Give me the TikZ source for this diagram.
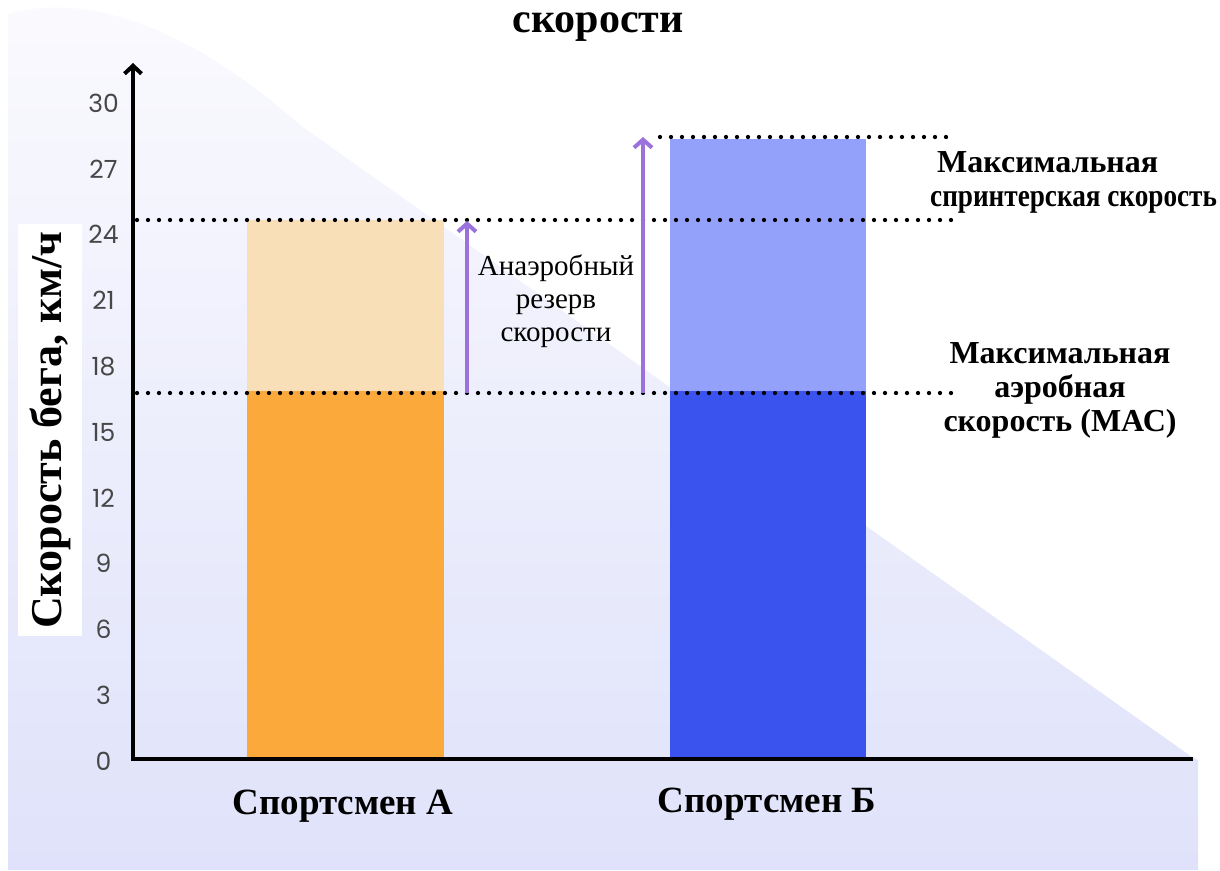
\documentclass[tikz,border=0pt]{standalone}
\usepackage{fontspec}
\setmainfont{Liberation Serif}
\newfontfamily\tickfont{Poppins}
\newfontfamily\narrowbold[FakeStretch=0.85]{Liberation Serif Bold}
\usetikzlibrary{arrows.meta,positioning}
\definecolor{barorange}{HTML}{FBA93B}
\definecolor{barpeach}{HTML}{F9DFB8}
\definecolor{barblue}{HTML}{3A52EE}
\definecolor{barsky}{HTML}{93A1FB}
\definecolor{reservepurple}{HTML}{9B72DB}
\definecolor{bgtop}{HTML}{FAFAFE}
\definecolor{bgbottom}{HTML}{DFE2FA}
\definecolor{tickgrey}{HTML}{474747}
\tikzset{
  axisline/.style={line width=4pt, -{Straight Barb[length=8pt,width=17pt,line width=4pt]}},
  reserve/.style={reservepurple, line width=4.5pt, -{Straight Barb[length=8pt,width=18pt,line width=4pt]}},
  level/.style={line width=4.3pt, line cap=round, dash pattern=on 0pt off 11pt},
  ticklabel/.style={text=tickgrey, font=\tickfont\fontsize{25}{28}\selectfont},
  barlabel/.style={font=\bfseries\fontsize{37}{40}\selectfont, anchor=base},
  sidelabel/.style={font=\bfseries\fontsize{32}{34}\selectfont, inner sep=0pt},
}
\begin{document}
\begin{tikzpicture}[x=1pt,y=-1pt]
\useasboundingbox (0,0) rectangle (1220,870);
% background
\shade[top color=bgtop, bottom color=bgbottom] (8,870) -- (8,14)
  .. controls (70,-4) and (170,10) .. (300,125) -- (1192,757)
  -- (1198,760) -- (1198,870) -- cycle;
% bars
\fill[barorange] (247,391) rectangle (444,758);
\fill[barpeach] (247,220) rectangle (444,391);
\fill[barblue] (670,391) rectangle (866,758);
\fill[barsky] (670,139) rectangle (866,391);
% levels
\coordinate (sprintA) at (137,220);
\coordinate (sprintB) at (660,137);
\coordinate (mas) at (137,393);
\draw[level] (sprintA) -- (952,220);
\draw[level] (mas) -- (952,393);
\draw[level] (sprintB) -- (952,137);
% axes
\coordinate (origin) at (133,759);
\coordinate (ytop) at (133,63);
\coordinate (xend) at (1193,759);
\draw[axisline] (xend) -- (origin) -- (ytop);
\foreach \v in {0,3,...,30}
  \node[ticklabel] (tick\v) at (103.5,{761-\v*21.93}) {\v};
% reserve arrows
\coordinate (resA0) at (467,393);
\coordinate (resA1) at (467,221);
\coordinate (resB0) at (643,393);
\coordinate (resB1) at (643,137);
\draw[reserve] (resA0) -- (resA1);
\draw[reserve] (resB0) -- (resB1);
% texts
\node[font=\bfseries\fontsize{42}{46}\selectfont, anchor=base] (title) at (598,32) {скорости};
\node[font=\fontsize{29}{33}\selectfont, align=center, anchor=base, inner sep=0pt] (reservetext) at (556,341) {Анаэробный\\резерв\\скорости};
\node[sidelabel, align=left, anchor=base west] (sprintlabel) at (930,206)
  {\hspace*{7pt}Максимальная\\{\narrowbold\fontsize{32}{34}\selectfont спринтерская скорость}};
\node[sidelabel, align=center, anchor=base] (maslabel) at (1060,431) {Максимальная\\аэробная\\скорость (МАС)};
\node[barlabel] (athleteA) at (343,814) {Спортсмен А};
\node[barlabel] (athleteB) at (767,812) {Спортсмен Б};
\node[fill=white, rotate=90, minimum width=412pt, minimum height=64pt, inner sep=0pt,
  font=\bfseries\fontsize{44}{48}\selectfont] (ylabel) at (50,430) {Скорость бега, км/ч};
\end{tikzpicture}
\end{document}
